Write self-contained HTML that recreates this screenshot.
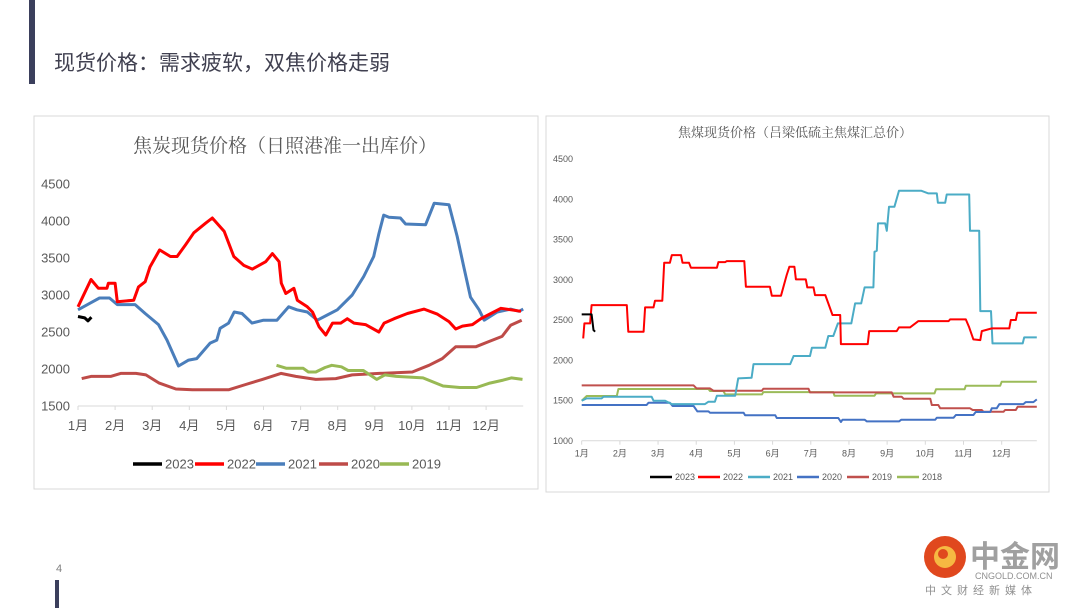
<!DOCTYPE html>
<html><head><meta charset="utf-8">
<style>
html,body{margin:0;padding:0;background:#fff;}
body{width:1080px;height:608px;position:relative;overflow:hidden;font-family:"Liberation Sans","Noto Sans CJK SC",sans-serif;}
#page{position:absolute;left:0;top:0;}
</style></head>
<body>
<svg id="page" width="1080" height="608" viewBox="0 0 1080 608" xmlns="http://www.w3.org/2000/svg">
<rect x="29" y="0" width="6" height="84" fill="#3b3f5c"/>
<text x="54" y="70" font-size="21" fill="#404050" font-family="Liberation Sans, Noto Sans CJK SC, sans-serif">现货价格：需求疲软，双焦价格走弱</text>
<text x="56" y="572" font-size="11" fill="#808080">4</text>
<rect x="55" y="580" width="4" height="28" fill="#3b3f5c"/>
<g>
<circle cx="945" cy="557" r="21" fill="#e0481e"/>
<circle cx="945" cy="557" r="11" fill="#f6b942"/>
<circle cx="943" cy="554" r="5" fill="#e0481e"/>
<text x="970" y="567" font-size="30" font-weight="bold" fill="#a0a0a0" font-family="Noto Sans CJK SC, sans-serif">中金网</text>
<text x="975" y="579" font-size="9" fill="#909090">CNGOLD.COM.CN</text>
<text x="925" y="594" font-size="11" fill="#909090" letter-spacing="5" font-family="Noto Sans CJK SC, sans-serif">中文财经新媒体</text>
</g>
<g id="leftChart">
<rect x="34" y="116" width="504" height="373" fill="#fff" stroke="#d9d9d9"/>
<text x="285" y="152" font-size="19" fill="#595959" text-anchor="middle" font-family="Noto Serif CJK SC, Noto Sans CJK SC, sans-serif">焦炭现货价格（日照港准一出库价）</text>
</g>
<g id="rightChart">
<rect x="546" y="116" width="503" height="376" fill="#fff" stroke="#d9d9d9"/>
<text x="795" y="137" font-size="13" fill="#595959" text-anchor="middle" font-family="Noto Serif CJK SC, Noto Sans CJK SC, sans-serif">焦煤现货价格（吕梁低硫主焦煤汇总价）</text>
</g>
</svg>
<script>
// ---------- shared ----------
const monthLabels = ["1月","2月","3月","4月","5月","6月","7月","8月","9月","10月","11月","12月"];
const leftTicks = [1500,2000,2500,3000,3500,4000,4500];
const rightTicks = [1000,1500,2000,2500,3000,3500,4000,4500];
const leftYears = ["2023","2022","2021","2020","2019"];
const rightYears = ["2023","2022","2021","2020","2019","2018"];

// ---------- left chart data (t = months since Jan 1) ----------
const L23t=[0,0.18,0.27,0.36];
const L23v=[2710,2690,2650,2700];
const L22t=[0,0.35,0.55,0.78,0.82,1.0,1.06,1.5,1.63,1.81,1.94,2.2,2.49,2.67,2.9,3.12,3.44,3.62,3.94,4.2,4.47,4.7,5.06,5.24,5.42,5.48,5.6,5.82,5.91,6.18,6.32,6.5,6.68,6.86,7.08,7.26,7.44,7.75,8.11,8.25,8.52,8.88,9.33,9.69,10.0,10.18,10.36,10.63,10.86,11.13,11.4,11.67,11.94];
const L22v=[2840,3210,3090,3090,3160,3160,2910,2930,3110,3180,3380,3610,3520,3520,3680,3840,3970,4040,3860,3520,3400,3350,3450,3560,3450,3160,3020,3090,2930,2840,2770,2570,2460,2620,2620,2680,2620,2600,2500,2620,2680,2750,2810,2740,2640,2540,2580,2600,2680,2750,2820,2800,2780];
const L21t=[0,0.36,0.58,0.85,1.06,1.54,1.81,2.17,2.4,2.71,2.98,3.2,3.56,3.74,3.83,4.06,4.21,4.42,4.69,5.0,5.36,5.68,5.9,6.18,6.45,6.72,6.99,7.39,7.7,7.97,8.11,8.24,8.38,8.69,8.83,9.37,9.6,10.0,10.22,10.4,10.58,10.81,10.95,11.3,11.66,11.89,12.0];
const L21v=[2800,2900,2960,2960,2870,2870,2750,2600,2390,2040,2120,2140,2350,2390,2550,2620,2770,2750,2620,2660,2660,2840,2800,2770,2660,2730,2800,3000,3250,3520,3830,4080,4050,4040,3960,3950,4240,4220,3790,3380,2970,2800,2660,2770,2810,2780,2810];
const L20t=[0.1,0.35,0.88,1.15,1.56,1.83,2.19,2.64,3.08,3.44,4.07,4.52,4.97,5.47,5.87,6.41,6.95,7.39,8.12,9.01,9.46,9.82,10.18,10.72,11.07,11.43,11.66,11.96];
const L20v=[1870,1900,1900,1940,1940,1920,1810,1730,1720,1720,1720,1790,1860,1940,1900,1860,1870,1920,1940,1960,2050,2140,2300,2300,2370,2440,2590,2660];
const L19t=[5.35,5.62,6.07,6.21,6.41,6.66,6.84,7.1,7.28,7.69,8.05,8.27,8.58,9.3,9.84,10.29,10.74,11.1,11.46,11.68,11.98];
const L19v=[2050,2010,2010,1960,1960,2020,2050,2030,1980,1980,1860,1920,1900,1880,1770,1750,1750,1810,1850,1880,1860];

// ---------- right chart data ----------
const R23t=[0,0.26,0.31,0.35];
const R23v=[2569,2569,2374,2354];
const R22t=[0.04,0.07,0.22,0.26,1.18,1.22,1.62,1.66,1.88,1.92,2.11,2.16,2.31,2.36,2.6,2.64,2.81,2.86,3.54,3.58,3.76,3.8,4.26,4.3,4.93,4.98,5.22,5.37,5.44,5.57,5.61,5.87,5.91,6.07,6.11,6.38,6.46,6.57,6.77,6.79,7.49,7.53,8.25,8.31,8.6,8.82,9.61,9.65,10.06,10.15,10.26,10.44,10.48,10.74,11.2,11.24,11.37,11.41,11.92];
const R22v=[2271,2457,2457,2685,2685,2354,2354,2656,2656,2739,2739,3211,3211,3306,3306,3211,3211,3149,3149,3219,3219,3231,3231,2913,2913,2801,2801,3058,3161,3161,3004,3004,2904,2904,2809,2809,2706,2561,2561,2200,2200,2362,2362,2408,2408,2486,2486,2507,2507,2408,2259,2250,2362,2395,2395,2499,2499,2590,2590];
const R21t=[0,0.13,0.52,0.57,1.83,1.88,2.18,2.36,3.23,3.32,3.49,3.54,4.02,4.1,4.45,4.5,5.46,5.55,5.98,6.03,6.38,6.46,6.59,6.71,7.06,7.16,7.32,7.41,7.64,7.67,7.73,7.76,7.95,7.99,8.05,8.19,8.31,8.89,9.08,9.3,9.33,9.52,9.56,10.15,10.17,10.41,10.44,10.72,10.76,11.55,11.59,11.92];
const R21v=[1497,1526,1526,1546,1546,1497,1497,1455,1455,1484,1484,1559,1559,1774,1782,1952,1952,2052,2052,2155,2155,2300,2300,2457,2457,2706,2706,2904,2904,3347,3360,3699,3699,3608,3906,3906,4105,4105,4072,4072,3956,3956,4059,4059,3608,3608,2610,2610,2209,2209,2283,2283];
const R20t=[0,1.7,1.75,2.31,2.38,2.93,3.03,3.32,3.36,4.24,4.28,5.07,5.11,6.72,6.79,6.83,7.41,7.47,8.31,8.37,9.26,9.3,9.74,9.8,10.26,10.32,10.7,10.74,10.87,10.94,11.57,11.63,11.83,11.92];
const R20v=[1443,1443,1472,1472,1431,1431,1364,1364,1348,1348,1315,1315,1282,1282,1232,1261,1261,1240,1240,1261,1261,1286,1286,1319,1319,1356,1356,1402,1402,1455,1455,1480,1480,1513];
const R19t=[0,2.93,3.01,3.36,3.45,4.72,4.76,5.94,5.98,8.12,8.17,8.38,8.43,9.13,9.17,9.34,9.39,10.17,10.24,10.48,10.52,11.05,11.09,11.37,11.42,11.92];
const R19v=[1687,1687,1650,1650,1621,1621,1646,1646,1600,1600,1546,1546,1522,1522,1443,1443,1402,1402,1381,1381,1360,1360,1381,1381,1422,1422];
const R18t=[0,0.13,0.92,0.96,3.32,3.36,3.71,3.76,4.72,4.76,6.59,6.62,7.67,7.71,9.24,9.28,10.03,10.06,10.96,11.0,11.92];
const R18v=[1497,1555,1555,1642,1642,1617,1617,1575,1575,1604,1604,1559,1559,1588,1588,1638,1638,1683,1683,1733,1733];

const NS="http://www.w3.org/2000/svg";
function mk(parent, tag, attrs){const e=document.createElementNS(NS,tag);for(const k in attrs)e.setAttribute(k,attrs[k]);parent.appendChild(e);return e;}

function buildChart(cfg){
  const g=document.getElementById(cfg.id);
  const xS=t=>cfg.x0+t*cfg.mw;
  const yS=v=>cfg.yBase-(v-cfg.vMin)*cfg.py;
  // y tick labels
  cfg.ticks.forEach(v=>{
    const t=mk(g,"text",{x:cfg.yLabX,y:yS(v)+cfg.fs*0.35,"font-size":cfg.fs,fill:"#595959","text-anchor":cfg.yAnchor});
    t.textContent=v;
    
    
  });
  // x axis
  const ax=mk(g,"line",{x1:xS(0),x2:xS(cfg.tEnd),y1:cfg.yBase,y2:cfg.yBase,stroke:"#d9d9d9","stroke-width":1});
  
  
  monthLabels.forEach((m,i)=>{
    const tk=mk(g,"line",{x1:xS(i),x2:xS(i),y1:cfg.yBase,y2:cfg.yBase+4,stroke:"#d9d9d9"});
    
    
    const t=mk(g,"text",{x:xS(i),y:cfg.yBase+cfg.xLabDy,"font-size":cfg.fs,fill:"#595959","text-anchor":"middle"});
    t.textContent=m;
    
    
  });
  // series
  cfg.series.forEach(s=>{
    const d=s.t.map((t,i)=>(i?"L":"M")+xS(t).toFixed(1)+","+yS(s.v[i]).toFixed(1)).join(" ");
    const p=mk(g,"path",{d:d,fill:"none",stroke:s.c,"stroke-width":cfg.lw,"stroke-linejoin":"round"});
    
    
  });
  // legend
  cfg.years.forEach((y,i)=>{
    const lx=cfg.legX[i];
    const l=mk(g,"line",{x1:lx,x2:lx+cfg.legLen,y1:cfg.legY,y2:cfg.legY,stroke:cfg.legC[i],"stroke-width":cfg.lw+0.5});
    
    
    const t=mk(g,"text",{x:lx+cfg.legLen+3,y:cfg.legY+cfg.fs*0.35,"font-size":cfg.fs,fill:"#595959"});
    t.textContent=y;
    
    
  });
}

buildChart({id:"leftChart",x0:78,mw:37.1,tEnd:12,yBase:406,vMin:1500,py:0.074,ticks:leftTicks,fs:13,yLabX:70,yAnchor:"end",xLabDy:24,lw:3,
  series:[
    {name:"2020",t:L20t,v:L20v,c:"#be4b48"},
    {name:"2019",t:L19t,v:L19v,c:"#98b954"},
    {name:"2021",t:L21t,v:L21v,c:"#4a7ebb"},
    {name:"2022",t:L22t,v:L22v,c:"#ff0000"},
    {name:"2023",t:L23t,v:L23v,c:"#000000"}],
  years:leftYears,legC:["#000","#ff0000","#4a7ebb","#be4b48","#98b954"],legX:[133,195,256,319,380],legLen:29,legY:464});

buildChart({id:"rightChart",x0:581.7,mw:38.18,tEnd:11.92,yBase:440.7,vMin:1000,py:0.0805,ticks:rightTicks,fs:9,yLabX:553,yAnchor:"start",xLabDy:16,lw:2,
  series:[
    {name:"2018",t:R18t,v:R18v,c:"#9bbb59"},
    {name:"2019",t:R19t,v:R19v,c:"#c0504d"},
    {name:"2020",t:R20t,v:R20v,c:"#4472c4"},
    {name:"2021",t:R21t,v:R21v,c:"#4bacc6"},
    {name:"2022",t:R22t,v:R22v,c:"#ff0000"},
    {name:"2023",t:R23t,v:R23v,c:"#000000"}],
  years:rightYears,legC:["#000","#ff0000","#4bacc6","#4472c4","#c0504d","#9bbb59"],legX:[650,698,748,797,847,897],legLen:22,legY:477});
</script>
</body></html>
